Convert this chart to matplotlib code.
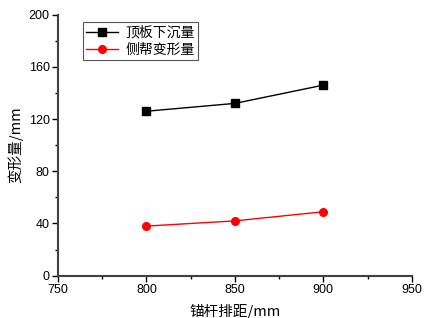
import matplotlib
matplotlib.use('Agg')
import matplotlib.pyplot as plt
from matplotlib.ticker import MultipleLocator

plt.rcParams['font.family'] = ['Liberation Sans', 'Noto Sans CJK SC']

spacing = [800, 850, 900]
roof = [126, 132, 146]
side = [38, 42, 49]

fig = plt.figure(figsize=(4.25, 3.18), dpi=100)
ax = fig.add_axes([0.1365, 0.133, 0.8325, 0.821])

ax.plot(spacing, roof, color='black', marker='s', markersize=5.5, linewidth=1, label='顶板下沉量')
ax.plot(spacing, side, color='red', marker='o', markersize=5.5, linewidth=1, label='侧帮变形量')

ax.set_xlim(750, 950)
ax.set_ylim(0, 200)
ax.xaxis.set_major_locator(MultipleLocator(50))
ax.xaxis.set_minor_locator(MultipleLocator(25))
ax.yaxis.set_major_locator(MultipleLocator(40))
ax.yaxis.set_minor_locator(MultipleLocator(20))

for s in ['top', 'right']:
    ax.spines[s].set_visible(False)
for s in ['left', 'bottom']:
    ax.spines[s].set_linewidth(1.5)
    ax.spines[s].set_color('#404040')

ax.tick_params(which='major', direction='out', length=4, width=1, labelsize=9, pad=2)
ax.tick_params(which='minor', direction='out', length=2.5, width=1)

ax.set_xlabel('锚杆排距/mm', fontsize=10.5, family=['Noto Sans CJK SC'], labelpad=6)
ax.set_ylabel('变形量/mm', fontsize=10.5, family=['Noto Sans CJK SC'])

leg = ax.legend(loc='upper left', bbox_to_anchor=(0.07, 0.97), borderaxespad=0,
                fancybox=False, edgecolor='#555555', framealpha=1,
                handlelength=2.3, borderpad=0.25, labelspacing=0.2, handletextpad=0.5,
                prop={'family': 'Noto Sans CJK SC', 'size': 10})
leg.get_frame().set_linewidth(0.8)

fig.savefig('out.png', dpi=100)
